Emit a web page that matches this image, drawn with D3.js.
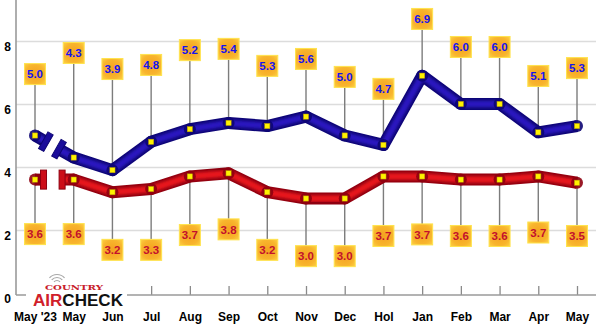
<!DOCTYPE html>
<html>
<head>
<meta charset="utf-8">
<script src="https://cdn.jsdelivr.net/npm/d3@7"></script>
<style>
  html, body { margin: 0; padding: 0; background: #fff; }
  svg { display: block; font-family: "Liberation Sans", Arial, sans-serif; }
</style>
</head>
<body>
<svg id="chart" width="600" height="328"></svg>
<script>
// Monthly ratings, two series
const categories = ["May '23", "May", "Jun", "Jul", "Aug", "Sep", "Oct", "Nov", "Dec", "Hol", "Jan", "Feb", "Mar", "Apr", "May"];
const blueValues = [5.0, 4.3, 3.9, 4.8, 5.2, 5.4, 5.3, 5.6, 5.0, 4.7, 6.9, 6.0, 6.0, 5.1, 5.3];
const redValues  = [3.6, 3.6, 3.2, 3.3, 3.7, 3.8, 3.2, 3.0, 3.0, 3.7, 3.7, 3.6, 3.6, 3.7, 3.5];
const yTickValues = [0, 2, 4, 6, 8];

// Height (in value units) where each call-out box sits
const blueCalloutAt = [6.95, 7.62, 7.11, 7.24, 7.71, 7.75, 7.21, 7.43, 6.86, 6.48, 8.70, 7.81, 7.81, 6.89, 7.14];
const redCalloutAt  = [1.87, 1.87, 1.37, 1.37, 1.84, 2.02, 1.37, 1.17, 1.17, 1.81, 1.86, 1.81, 1.81, 1.92, 1.81];

const svg = d3.select("#chart");
const idx = d3.range(categories.length);

const x = d3.scalePoint().domain(idx).range([35, 577]);
const y = d3.scaleLinear().domain([0, 8]).range([293, 41]);

const defs = svg.append("defs");
const boxGrad = defs.append("radialGradient").attr("id", "boxGrad").attr("r", "0.75");
boxGrad.append("stop").attr("offset", "0%").attr("stop-color", "#f5a21f");
boxGrad.append("stop").attr("offset", "60%").attr("stop-color", "#f8b52d");
boxGrad.append("stop").attr("offset", "100%").attr("stop-color", "#ffd84a");
defs.append("filter").attr("id", "soft")
  .append("feGaussianBlur").attr("stdDeviation", 1.6);

// Gridlines + y labels
const yAxis = svg.append("g")
  .attr("transform", "translate(16,0)")
  .call(d3.axisLeft(y).tickValues(yTickValues).tickSize(-580).tickPadding(5).tickFormat(d3.format("d")));
yAxis.select(".domain").remove();
yAxis.selectAll(".tick line")
  .attr("stroke", d => d === 0 ? "none" : "#dcdcdc")
  .attr("stroke-width", 1.5);
yAxis.selectAll(".tick text")
  .attr("dy", "0.75em")
  .attr("fill", "#000")
  .style("font-size", "12px").style("font-weight", "bold");

// left axis line
svg.append("line").attr("x1", 16).attr("x2", 16).attr("y1", 0).attr("y2", 295)
  .attr("stroke", "#9a9a9a").attr("stroke-width", 1.6);

// x axis
const xAxis = svg.append("g")
  .attr("transform", "translate(0,295)")
  .call(d3.axisBottom(x).tickSize(-9).tickPadding(17).tickFormat(i => categories[i]));
xAxis.select(".domain").remove();
xAxis.selectAll(".tick line").attr("stroke", "#8a8a8a").attr("stroke-width", 1.3);
xAxis.selectAll(".tick text")
  .attr("fill", "#000")
  .style("font-size", "12px").style("font-weight", "bold");
svg.append("line").attr("x1", 16).attr("x2", 596).attr("y1", 295).attr("y2", 295)
  .attr("stroke", "#9a9a9a").attr("stroke-width", 1.6);

function drawSeries(values, calloutAt, opts) {
  const g = svg.append("g");
  const pts = idx.map(i => [x(i), y(values[i])]);

  // leader lines from call-out boxes to points
  g.selectAll("line.leader").data(idx).join("line")
    .attr("x1", i => x(i)).attr("x2", i => x(i))
    .attr("y1", i => y(values[i]))
    .attr("y2", i => y(calloutAt[i]) + (opts.above ? 10.5 : -10.5))
    .attr("stroke", "#7c7c7c").attr("stroke-width", 1.4);

  // broken first segment
  const p0 = pts[0], p1 = pts[1];
  const lerp = t => [p0[0] + (p1[0] - p0[0]) * t, p0[1] + (p1[1] - p0[1]) * t];
  const c1 = lerp(opts.breakAt[0]), c2 = lerp(opts.breakAt[1]);
  const pieces = [[p0, c1], [c2].concat(pts.slice(1))];
  const line = d3.line();

  pieces.forEach(pc => {
    g.append("path").attr("d", line(pc)).attr("fill", "none")
      .attr("stroke", opts.dark).attr("stroke-width", 12)
      .attr("stroke-linejoin", "round").attr("stroke-linecap", "butt");
    g.append("path").attr("d", line(pc)).attr("fill", "none")
      .attr("stroke", opts.mid).attr("stroke-width", 6.5)
      .attr("stroke-linejoin", "round").attr("filter", "url(#soft)");
  });

  // break caps
  const ang = Math.atan2(p1[1] - p0[1], p1[0] - p0[0]) * 180 / Math.PI;
  [c1, c2].forEach(c => {
    g.append("rect")
      .attr("x", -3).attr("y", -9.5).attr("width", 6).attr("height", 19)
      .attr("transform", `translate(${c[0]},${c[1]}) rotate(${ang})`)
      .attr("fill", opts.capFill).attr("stroke", opts.dark).attr("stroke-width", 1);
  });

  // vertex joints
  g.selectAll("circle.joint").data(pts).join("circle")
    .attr("cx", d => d[0]).attr("cy", d => d[1]).attr("r", 6)
    .attr("fill", opts.dark).attr("opacity", 0.9);

  // point markers
  g.selectAll("rect.marker").data(pts).join("rect")
    .attr("x", d => d[0] - 2.6).attr("y", d => d[1] - 2.6)
    .attr("width", 5.2).attr("height", 5.2)
    .attr("fill", "#fff200").attr("stroke", "#b89a00").attr("stroke-width", 0.5);

  // call-out boxes
  const boxes = g.selectAll("g.callout").data(idx).join("g")
    .attr("transform", i => `translate(${x(i)},${y(calloutAt[i])})`);
  boxes.append("rect")
    .attr("x", -10.5).attr("y", -10.5).attr("width", 21).attr("height", 21)
    .attr("fill", "url(#boxGrad)").attr("stroke", "#ffe34d").attr("stroke-width", 1);
  boxes.append("text")
    .attr("text-anchor", "middle").attr("dy", "0.36em")
    .attr("fill", opts.text)
    .style("font-size", "11.5px").style("font-weight", "bold")
    .text(i => d3.format(".1f")(values[i]));
}

drawSeries(redValues, redCalloutAt, {
  above: false, dark: "#8e0010", mid: "#e8121c", capFill: "#cc0d18", text: "#c3102c",
  breakAt: [0.22, 0.70]
});
drawSeries(blueValues, blueCalloutAt, {
  above: true, dark: "#0d0573", mid: "#2a18c0", capFill: "#1a0c9a", text: "#1414f0",
  breakAt: [0.28, 0.62]
});

// logo
const logo = svg.append("g");
logo.append("rect").attr("x", 26).attr("y", 286).attr("width", 101).attr("height", 21).attr("fill", "#fff");
[4, 7, 10].forEach(r => {
  const arc = d3.arc().innerRadius(r).outerRadius(r)
    .startAngle(-0.85).endAngle(0.85);
  logo.append("path").attr("d", arc()).attr("transform", "translate(57,284.5)")
    .attr("fill", "none").attr("stroke", "#a8a8a8").attr("stroke-width", 1.2);
});
logo.append("text").attr("x", 45).attr("y", 290)
  .attr("textLength", 58).attr("lengthAdjust", "spacingAndGlyphs")
  .style("font-family", "'DejaVu Serif', serif").style("font-size", "8px").style("font-weight", "bold")
  .attr("fill", "#c8202a").text("COUNTRY");
const brand = logo.append("text").attr("x", 33).attr("y", 306)
  .attr("textLength", 90).attr("lengthAdjust", "spacingAndGlyphs")
  .style("font-size", "16px").style("font-weight", "bold");
brand.append("tspan").attr("fill", "#d0202a").text("AIR");
brand.append("tspan").attr("fill", "#111").text("CHECK");
</script>
</body>
</html>
